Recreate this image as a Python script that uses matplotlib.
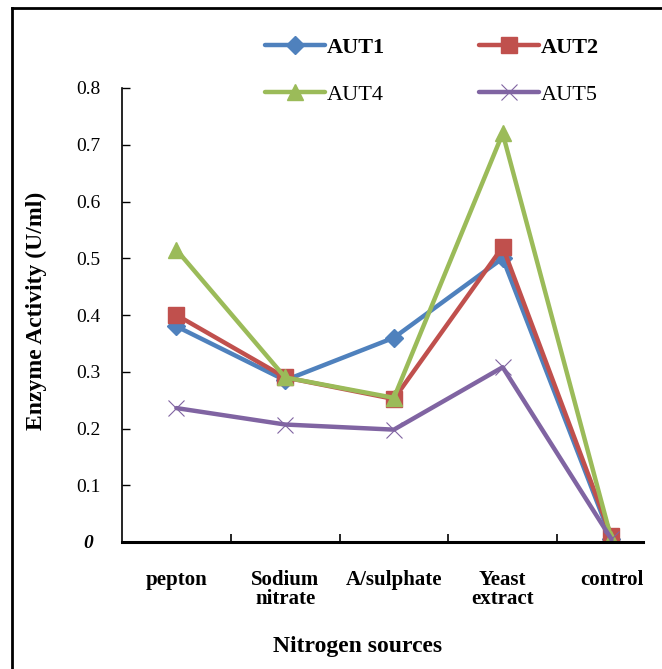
import matplotlib
matplotlib.use("Agg")
import matplotlib.pyplot as plt
from matplotlib.lines import Line2D

categories = ["pepton", "Sodium\nnitrate", "A/sulphate", "Yeast\nextract", "control"]
series_names = ["AUT1", "AUT2", "AUT4", "AUT5"]
aut1 = [0.38, 0.285, 0.36, 0.50, 0.005]
aut2 = [0.40, 0.29, 0.252, 0.52, 0.01]
aut4 = [0.515, 0.29, 0.254, 0.72, 0.005]
aut5 = [0.236, 0.207, 0.198, 0.308, 0.005]
yticks = [0, 0.1, 0.2, 0.3, 0.4, 0.5, 0.6, 0.7, 0.8]
ytick_labels = ["0", "0.1", "0.2", "0.3", "0.4", "0.5", "0.6", "0.7", "0.8"]

colors = ["#4F81BD", "#C0504D", "#9BBB59", "#8064A2"]
markers = ["D", "s", "^", "x"]
msizes = [9, 12, 12, 12]

plt.rcParams['font.family'] = ['Liberation Serif', 'DejaVu Serif']

fig = plt.figure(figsize=(6.62, 6.69), dpi=100)
W, H = 662, 669
ax = fig.add_axes([122 / W, 1 - 542 / H, (643 - 122) / W, (542 - 88) / H])

x = list(range(len(categories)))
handles = []
for vals, name, c, m, ms in zip([aut1, aut2, aut4, aut5], series_names, colors, markers, msizes):
    if m == "x":
        h, = ax.plot(x, vals, color=c, lw=3.2, marker=m, ms=ms, mew=0.8, label=name,
                     solid_joinstyle='round', solid_capstyle='round')
    else:
        h, = ax.plot(x, vals, color=c, lw=3.2, marker=m, ms=ms, label=name,
                     solid_joinstyle='round', solid_capstyle='round')
    handles.append(h)

ax.set_ylim(0, 0.8)
ax.set_xlim(-0.5, 4.29)
ax.set_yticks(yticks)
ax.set_yticklabels(ytick_labels, fontsize=14)
ax.set_xticks([0.5, 1.5, 2.5, 3.5])
ax.set_xticklabels([])
ax.set_xticks(x, minor=True)
ax.set_xticklabels(categories, minor=True, fontsize=15, fontweight='bold', linespacing=0.95)
ax.tick_params(axis='x', which='minor', length=0, pad=20)
ax.tick_params(axis='x', which='major', direction='in', length=6, width=1.2)
ax.tick_params(axis='y', direction='in', length=6, width=1, pad=24)
for lbl in ax.get_yticklabels():
    lbl.set_horizontalalignment('center')
ax.yaxis.get_ticklabels()[0].set_fontstyle('italic')
ax.yaxis.get_ticklabels()[0].set_fontweight('bold')

for s in ['top', 'right']:
    ax.spines[s].set_visible(False)
ax.spines['left'].set_linewidth(1.2)
ax.spines['bottom'].set_linewidth(2.2)

ax.set_ylabel("Enzyme Activity (U/ml)", fontsize=17, fontweight='bold')
ax.yaxis.set_label_coords((47 - 122) / (643 - 122), 0.5 + 4 / 454)
ax.set_xlabel("Nitrogen sources", fontsize=17, fontweight='bold')
ax.xaxis.set_label_coords((358 - 122) / (643 - 122), -(636 - 542) / 454)

order = [0, 2, 1, 3]
leg = fig.legend(handles=[handles[i] for i in order], labels=[series_names[i] for i in order],
                 ncol=2, loc='center',
                 bbox_to_anchor=(432 / W, 1 - 71 / H), frameon=False,
                 fontsize=16, handlelength=2.7, handletextpad=0.1,
                 columnspacing=4.2, labelspacing=1.2)
for t in leg.get_texts():
    if t.get_text() in ("AUT1", "AUT2"):
        t.set_fontweight('bold')

# outer frame (left and top edges visible)
fig.add_artist(Line2D([12 / W, 12 / W], [0, 1 - 8 / H], color='black', lw=2, transform=fig.transFigure))
fig.add_artist(Line2D([12 / W, 1], [1 - 8 / H, 1 - 8 / H], color='black', lw=2, transform=fig.transFigure))

fig.savefig("out.png", dpi=100)
